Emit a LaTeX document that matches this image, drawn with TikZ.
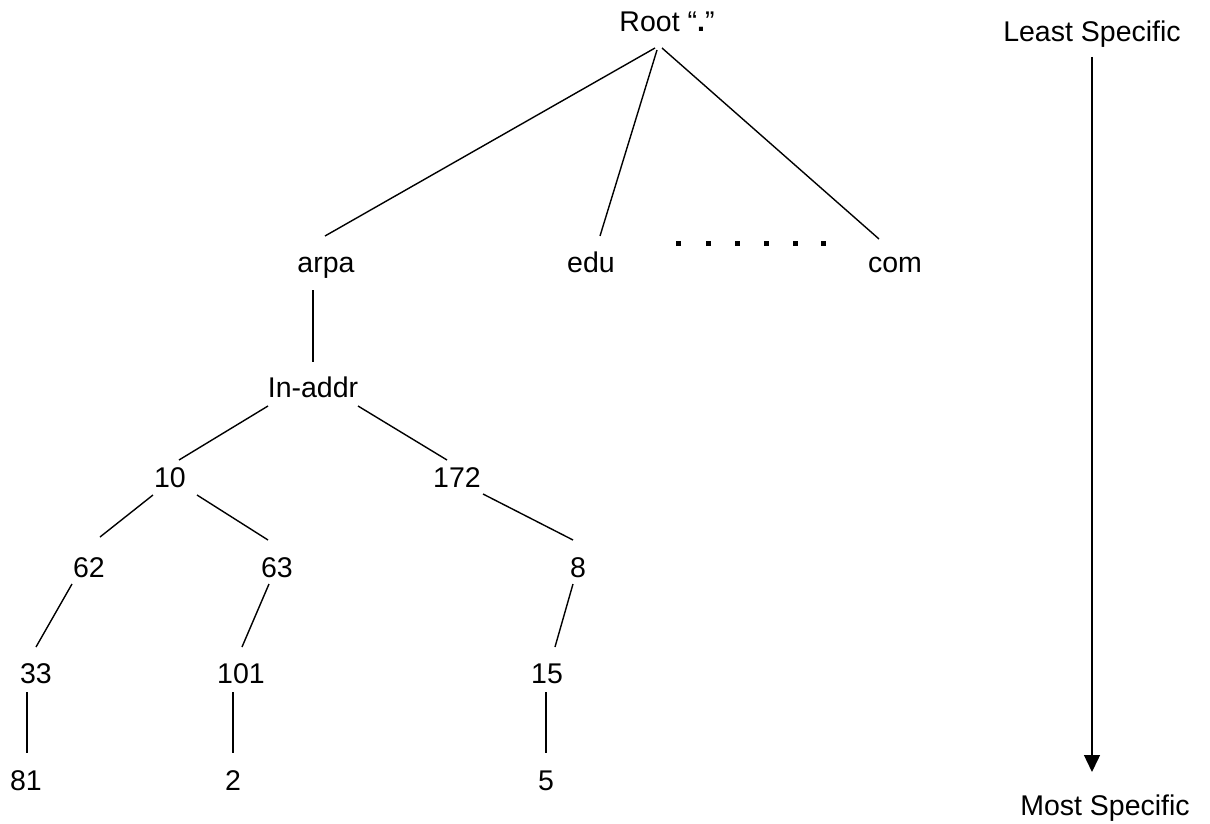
\documentclass[tikz,border=0pt]{standalone}
\usepackage{fontspec}
\setmainfont{Liberation Sans}
\usetikzlibrary{arrows.meta}
\tikzset{
  lbl/.style={anchor=base, inner sep=0pt, font=\fontsize{28.5}{34}\selectfont},
  edge/.style={line width=1.4pt, black},
  dot/.style={fill=black}
}
\begin{document}
\begin{tikzpicture}[x=1pt,y=-1pt]
\useasboundingbox (0,0) rectangle (1210,824);
\node[lbl] (root) at (667,32) {Root “\textbf{.}”};
\node[lbl] (least) at (1092,42) {Least Specific};
\node[lbl] (most) at (1105,815) {Most Specific};
\node[lbl] (arpa) at (326,272) {arpa};
\node[lbl] (edu) at (591,272) {edu};
\node[lbl] (com) at (895,272) {com};
\node[lbl] (inaddr) at (313,397) {In-addr};
\node[lbl] (n10) at (170,487) {10};
\node[lbl] (n172) at (457,487) {172};
\node[lbl] (n62) at (89,577) {62};
\node[lbl] (n63) at (277,577) {63};
\node[lbl] (n8) at (578,577) {8};
\node[lbl] (n33) at (36,683) {33};
\node[lbl] (n101) at (241,683) {101};
\node[lbl] (n15) at (547,683) {15};
\node[lbl] (n81) at (26,790) {81};
\node[lbl] (n2) at (233,790) {2};
\node[lbl] (n5) at (546,790) {5};

\draw[edge] ([shift={(-12,16)}]root.base) -- ([shift={(-1,-36)}]arpa.base);
\draw[edge] ([shift={(-10,18)}]root.base) -- ([shift={(9,-36)}]edu.base);
\draw[edge] ([shift={(-5,16)}]root.base) -- ([shift={(-16,-33)}]com.base);
\draw[edge] ([shift={(-13,18)}]arpa.base) -- ([shift={(0,-35)}]inaddr.base);
\draw[edge] ([shift={(-45,9)}]inaddr.base) -- ([shift={(9,-27)}]n10.base);
\draw[edge] ([shift={(45,9)}]inaddr.base) -- ([shift={(-10,-27)}]n172.base);
\draw[edge] ([shift={(-17,8)}]n10.base) -- ([shift={(11,-40)}]n62.base);
\draw[edge] ([shift={(27,8)}]n10.base) -- ([shift={(-9,-37)}]n63.base);
\draw[edge] ([shift={(26,7)}]n172.base) -- ([shift={(-5,-37)}]n8.base);
\draw[edge] ([shift={(-17,7)}]n62.base) -- ([shift={(0,-36)}]n33.base);
\draw[edge] ([shift={(-8,7)}]n63.base) -- ([shift={(1,-36)}]n101.base);
\draw[edge] ([shift={(-5,7)}]n8.base) -- ([shift={(8,-36)}]n15.base);
\draw[edge] ([shift={(-9,9)}]n33.base) -- ([shift={(1,-37)}]n81.base);
\draw[edge] ([shift={(-8,9)}]n101.base) -- ([shift={(0,-37)}]n2.base);
\draw[edge] ([shift={(-1,9)}]n15.base) -- ([shift={(0,-37)}]n5.base);
\draw[edge, -{Triangle[width=16pt,length=17pt]}] ([shift={(0,15)}]least.base) -- ([shift={(-13,-43)}]most.base);

\foreach \x in {678,708,737,766,795,823}
  \fill[dot] (\x-2.5,240.5) rectangle (\x+2.5,245.5);
\end{tikzpicture}
\end{document}
